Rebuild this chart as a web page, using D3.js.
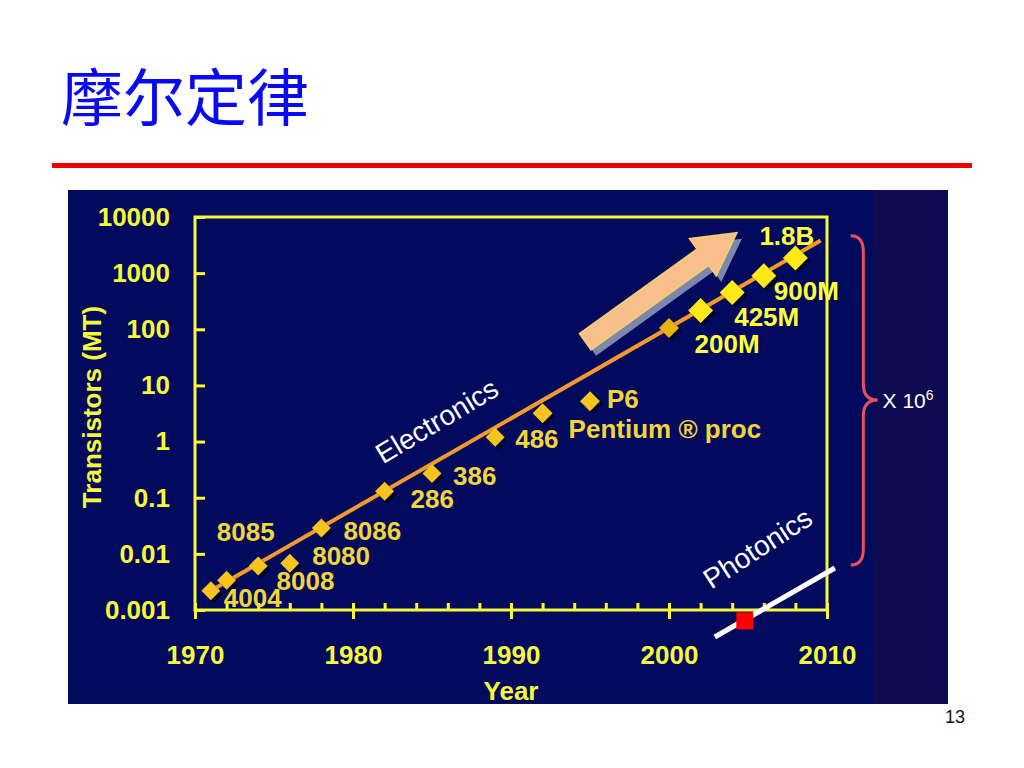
<!DOCTYPE html>
<html><head><meta charset="utf-8">
<script src="https://cdn.jsdelivr.net/npm/d3@7"></script>
<style>
html,body{margin:0;padding:0;background:#fff;}
svg{display:block;font-family:"Liberation Sans",Arial,sans-serif;}
</style></head><body>
<svg id="c" width="1024" height="768"></svg>
<script>
// ---------- data ----------
const title = "摩尔定律";
const chips = ["4004","8008","8080","8085","8086","286","386","486","Pentium ® proc","P6","","200M","425M","900M","1.8B"];
const years = [1971,1972,1974,1976,1978,1982,1985,1989,1992,1995,2000,2002,2004,2006,2008];
const transistorsMT = [0.0022,0.0034,0.0061,0.0068,0.029,0.13,0.27,1.2,3.2,5.2,105,215,450,900,1860];
const yTickValues = [0.001,0.01,0.1,1,10,100,1000,10000];
const yTickLabels = ["0.001","0.01","0.1","1","10","100","1000","10000"];
const xTickValues = [1970,1980,1990,2000,2010];
const xTickLabels = ["1970","1980","1990","2000","2010"];
const xMinorTicks = [1972,1974,1976,1978,1982,1984,1986,1988,1992,1994,1996,1998,2002,2004,2006,2008];
const trendYears = [1971, 2009.6];
const trendValues = [0.0022, 3800];
const photonicsYears = [2002.9, 2010.5];
const photonicsValues = [0.00033, 0.0056];
const photonicsPointYear = 2004.8;
const photonicsPointValue = 0.00064;
const arrowYears = [1994.7, 2004.3];
const arrowValues = [60, 5250];
const braceYears = [2011.5, 2012.3, 2013.2];
const braceValues = [4640, 5.5, 0.0063];
const electronicsAt = [1985.3, 2.34];
const photonicsAt = [2005.6, 0.0127];
const xLabel = "Year";
const yLabel = "Transistors (MT)";
const pageNumber = "13";

// ---------- layout (label offsets in px from each marker) ----------
const labelOffset = {
  "4004":[13,16], "8008":[50,10], "8080":[54,-1], "8085":[-73,-22], "8086":[22,12],
  "286":[26,17], "386":[21,12], "486":[20,11], "Pentium ® proc":[26,25], "P6":[17,7],
  "200M":[-6,42], "425M":[2,33], "900M":[10,24], "1.8B":[-36,-13]
};

const svg = d3.select("#c");

// title + rule
svg.append("text").attr("x",61).attr("y",121)
  .attr("font-family",'"Noto Sans CJK SC",sans-serif').attr("font-size",62)
  .attr("fill","#0a0af0").text(title);
svg.append("rect").attr("x",52).attr("y",163).attr("width",920).attr("height",5).attr("fill","#ee0000");

// chart background
svg.append("rect").attr("x",68).attr("y",190).attr("width",805).attr("height",514).attr("fill","#010a5c");
svg.append("rect").attr("x",873).attr("y",190).attr("width",75).attr("height",514).attr("fill","#0f0b52");

const x = d3.scaleLinear().domain([1970,2010]).range([195,827]);
const y = d3.scaleLog().domain([0.001,10000]).range([610,217]);

const yellow = "#f8f83a";

// axes
const gy = svg.append("g").attr("transform",`translate(${x(1970)},0)`)
  .call(d3.axisLeft(y).tickValues(yTickValues).tickFormat((d,i)=>yTickLabels[i]).tickSize(-10).tickPadding(25));
const gx = svg.append("g").attr("transform",`translate(0,${y(0.001)})`)
  .call(d3.axisBottom(x).tickValues(xTickValues).tickFormat((d,i)=>xTickLabels[i]).tickSize(9).tickPadding(27));
const gxUp = svg.append("g").attr("transform",`translate(0,${y(0.001)})`)
  .call(d3.axisBottom(x).tickValues(xTickValues.concat(xMinorTicks)).tickFormat("").tickSize(-7));
[gy,gx,gxUp].forEach(g=>{
  g.select(".domain").remove();
  g.selectAll("line").attr("stroke",yellow).attr("stroke-width",3);
  g.selectAll("text").attr("fill",yellow).attr("font-size",26).attr("font-weight","bold")
    .attr("font-family",'"Liberation Sans",Arial,sans-serif');
});

// frame
svg.append("rect").attr("x",x(1970)).attr("y",y(10000))
  .attr("width",x(2010)-x(1970)).attr("height",y(0.001)-y(10000))
  .attr("fill","none").attr("stroke",yellow).attr("stroke-width",3);

// axis titles
svg.append("text").attr("x",(x(1990))).attr("y",700).attr("text-anchor","middle")
  .attr("font-size",26).attr("font-weight","bold").attr("fill",yellow).text(xLabel);
svg.append("text").attr("transform",`translate(101,407) rotate(-90)`).attr("text-anchor","middle")
  .attr("font-size",26).attr("font-weight","bold").attr("fill",yellow).text(yLabel);

// trend line
const line = d3.line().x(d=>x(d[0])).y(d=>y(d[1]));
svg.append("path").attr("d",line(d3.zip(trendYears,trendValues)))
  .attr("stroke","#f49a2c").attr("stroke-width",4).attr("fill","none");

// markers
const pts = years.map((yr,i)=>({year:yr,val:transistorsMT[i],name:chips[i]}));
const rOf = d => d.year>=2002 ? 12.5 : (d.year>=1992 ? 10 : 9.5);
const colOf = d => d.year>=2002 ? "#ffe818" : (d.year===2000 ? "#e9b412" : "#f6c41e");
const diamond = r => `M0,${-r}L${r},0L0,${r}L${-r},0Z`;
const mg = svg.append("g");
mg.selectAll("path.sh").data(pts).join("path").attr("class","sh")
  .attr("transform",d=>`translate(${x(d.year)+3},${y(d.val)+3})`)
  .attr("d",d=>diamond(rOf(d))).attr("fill","#000018").attr("opacity",0.7);
mg.selectAll("path.mk").data(pts).join("path").attr("class","mk")
  .attr("transform",d=>`translate(${x(d.year)},${y(d.val)})`)
  .attr("d",d=>diamond(rOf(d))).attr("fill",colOf);

// labels
svg.append("g").selectAll("text").data(pts.filter(d=>d.name)).join("text")
  .attr("x",d=>x(d.year)+labelOffset[d.name][0])
  .attr("y",d=>y(d.val)+labelOffset[d.name][1])
  .attr("font-size",26).attr("font-weight","bold")
  .attr("fill",d=>d.year>=2002 ? "#ffff3c" : "#f2d43c")
  .text(d=>d.name);

// big arrow
(function(){
  const p0=[x(arrowYears[0]),y(arrowValues[0])], p1=[x(arrowYears[1]),y(arrowValues[1])];
  const L=Math.hypot(p1[0]-p0[0],p1[1]-p0[1]);
  const ang=Math.atan2(p1[1]-p0[1],p1[0]-p0[0])*180/Math.PI;
  const sw=10, hw=23, hl=42;
  const poly=[[0,-sw],[L-hl,-sw],[L-hl,-hw],[L,0],[L-hl,hw],[L-hl,sw],[0,sw]];
  const dpath="M"+poly.map(p=>p.join(",")).join("L")+"Z";
  svg.append("path").attr("d",dpath).attr("fill","#7d86ad")
    .attr("transform",`translate(${p0[0]+5},${p0[1]+6}) rotate(${ang})`);
  svg.append("path").attr("d",dpath).attr("fill","#f8bf8d").attr("stroke","#f4d266").attr("stroke-width",1.5)
    .attr("transform",`translate(${p0[0]},${p0[1]}) rotate(${ang})`);
})();

// Electronics / Photonics labels
svg.append("text").attr("transform",`translate(${x(electronicsAt[0])},${y(electronicsAt[1])}) rotate(-31)`)
  .attr("text-anchor","middle").attr("dy","0.35em").attr("font-size",28).attr("fill","#ffffff").text("Electronics");
svg.append("text").attr("transform",`translate(${x(photonicsAt[0])},${y(photonicsAt[1])}) rotate(-33)`)
  .attr("text-anchor","middle").attr("dy","0.35em").attr("font-size",28).attr("fill","#ffffff").text("Photonics");

// photonics line + point (point on top)
svg.append("path").attr("d",line(d3.zip(photonicsYears,photonicsValues)))
  .attr("stroke","#ffffff").attr("stroke-width",5).attr("fill","none");
svg.append("rect").attr("x",x(photonicsPointYear)-8.5).attr("y",y(photonicsPointValue)-8.5)
  .attr("width",17).attr("height",17).attr("fill","#ff0000");

// brace
(function(){
  const x0=x(braceYears[0]), x1=x(braceYears[1]), x2=x(braceYears[2]);
  const yt=y(braceValues[0]), ym=y(braceValues[1]), yb=y(braceValues[2]);
  const r=16;
  const d=`M${x0},${yt} Q${x1},${yt} ${x1},${yt+r} L${x1},${ym-r} Q${x1},${ym} ${x2},${ym} Q${x1},${ym} ${x1},${ym+r} L${x1},${yb-r} Q${x1},${yb} ${x0},${yb}`;
  svg.append("path").attr("d",d).attr("fill","none").attr("stroke","#e8505c").attr("stroke-width",3);
  const t=svg.append("text").attr("x",x2+5).attr("y",ym+8).attr("font-size",21).attr("fill","#ffffff");
  t.append("tspan").text("X 10");
  t.append("tspan").attr("font-size",14).attr("dy",-8).text("6");
})();

// page number
svg.append("text").attr("x",955).attr("y",723).attr("text-anchor","middle").attr("font-size",18)
  .attr("fill","#111").text(pageNumber);
</script>
</body></html>
